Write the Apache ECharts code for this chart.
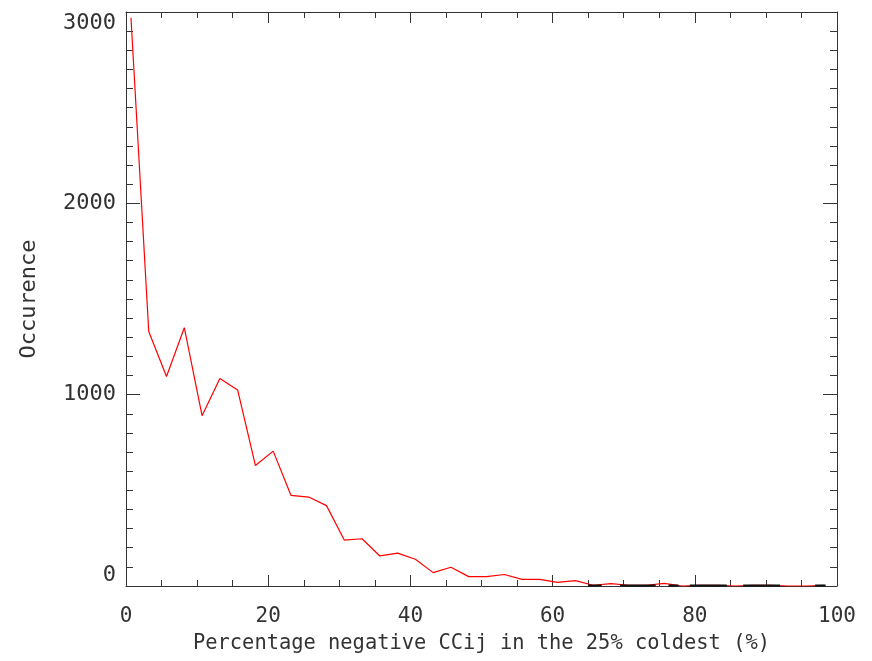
<!DOCTYPE html>
<html>
<head>
<meta charset="utf-8">
<script src="https://cdn.jsdelivr.net/npm/echarts@6/dist/echarts.min.js"></script>
<style>
html,body{margin:0;padding:0;background:#fff;}
#chart{width:872px;height:661px;}
</style>
</head>
<body>
<div id="chart"></div>
<script>
// Bin positions (%)
const xValues = [0.7, 3.2, 5.7, 8.2, 10.7, 13.2, 15.7, 18.2, 20.7, 23.2,
  25.7, 28.2, 30.7, 33.2, 35.7, 38.2, 40.7, 43.2, 45.7, 48.2,
  50.7, 53.2, 55.7, 58.2, 60.7, 63.2, 65.7, 68.2, 70.7, 73.2,
  75.7, 78.2, 80.7, 83.2, 85.7, 88.2, 90.7, 93.2, 95.7, 98.2];
// Occurrence counts
const occurrence = [2970, 1330, 1095, 1350, 890, 1085, 1025, 630, 705, 474,
  465, 420, 240, 247, 157, 172, 140, 70, 98, 49,
  49, 60, 35, 35, 19, 28, 4, 12, 4, 4,
  14, 0, 4, 4, 0, 4, 4, 0, 0, 4];
// dark segments visible along the baseline (x start, x end, value)
const darkSegX = [[65.0, 66.9], [69.5, 74.5], [76.3, 77.7], [79.3, 84.5], [86.8, 92.0], [96.9, 98.4]];
const darkSegY = 3;
// tick labels
const xTicks = [0, 20, 40, 60, 80, 100];
const yTicks = [0, 1000, 2000, 3000];
const xTitle = 'Percentage negative CCij in the 25% coldest (%)';
const yTitle = 'Occurence';

const font = "'DejaVu Sans Mono', monospace";
const textColor = '#333';
const axisColor = '#333';

const mainData = xValues.map((x, i) => [x, occurrence[i]]);
const darkData = [];
darkSegX.forEach((s, i) => {
  if (i > 0) darkData.push(['-', '-']);
  darkData.push([s[0], darkSegY]);
  darkData.push([s[1], darkSegY]);
});

function xAxisDef(pos, showLabel) {
  return {
    type: 'value', position: pos, min: xTicks[0], max: xTicks[xTicks.length - 1],
    interval: xTicks[1] - xTicks[0],
    name: showLabel ? xTitle : '', nameLocation: 'middle', nameGap: 48,
    nameTextStyle: {fontFamily: font, fontSize: 20.4, color: textColor},
    axisLine: {show: true, onZero: false, lineStyle: {color: axisColor, width: 1}},
    axisTick: {show: true, inside: true, length: 11, lineStyle: {color: axisColor, width: 1}},
    minorTick: {show: true, splitNumber: 4, length: 6, lineStyle: {color: axisColor, width: 1}},
    splitLine: {show: false},
    axisLabel: {show: showLabel, margin: 20, fontFamily: font, fontSize: 21, color: textColor,
      formatter: v => String(v)}
  };
}
function yAxisDef(pos, showLabel) {
  return {
    type: 'value', position: pos, min: yTicks[0], max: yTicks[yTicks.length - 1],
    interval: yTicks[1] - yTicks[0],
    name: showLabel ? yTitle : '', nameLocation: 'middle', nameGap: 86, nameRotate: 90,
    nameTextStyle: {fontFamily: font, fontSize: 22, color: textColor},
    axisLine: {show: true, onZero: false, lineStyle: {color: axisColor, width: 1}},
    axisTick: {show: true, inside: true, length: 14, lineStyle: {color: axisColor, width: 1}},
    minorTick: {show: true, splitNumber: 10, length: 7, lineStyle: {color: axisColor, width: 1}},
    splitLine: {show: false},
    axisLabel: {show: showLabel, margin: 10, fontFamily: font, fontSize: 22, color: textColor,
      formatter: v => String(v),
      verticalAlignMinLabel: 'bottom', verticalAlignMaxLabel: 'top'}
  };
}

const chart = echarts.init(document.getElementById('chart'), null, {renderer: 'canvas'});
chart.setOption({
  animation: false,
  backgroundColor: '#fff',
  grid: {left: 126, top: 12, right: 35, bottom: 75, containLabel: false},
  xAxis: [xAxisDef('bottom', true), xAxisDef('top', false)],
  yAxis: [yAxisDef('left', true), yAxisDef('right', false)],
  series: [
    {type: 'line', data: mainData, xAxisIndex: 0, yAxisIndex: 0, showSymbol: false,
      lineStyle: {color: '#ff0000', width: 1.2}, itemStyle: {color: '#ff0000'}, z: 3},
    {type: 'line', data: darkData, xAxisIndex: 0, yAxisIndex: 0, showSymbol: false,
      connectNulls: false,
      lineStyle: {color: '#111', width: 2}, itemStyle: {color: '#111'}, z: 4}
  ]
});
</script>
</body>
</html>
